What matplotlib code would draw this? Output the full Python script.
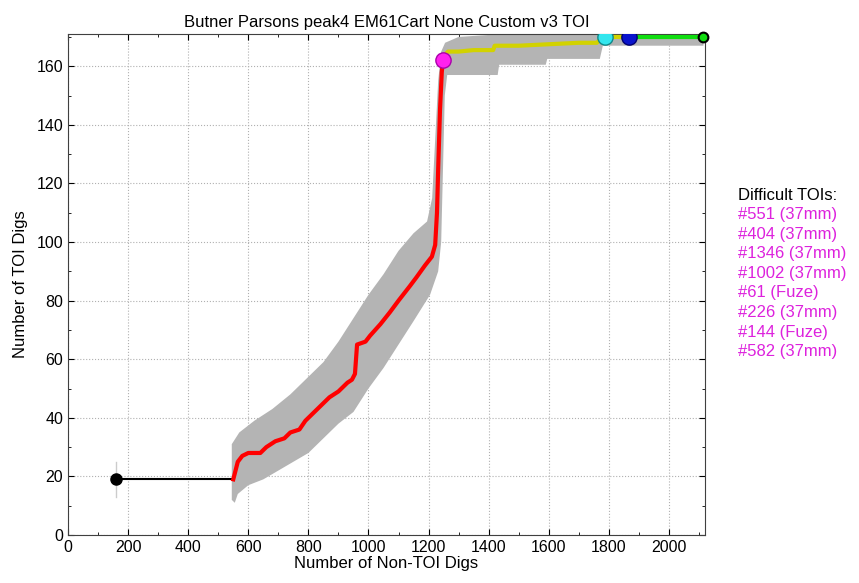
import matplotlib
matplotlib.use('Agg')
import matplotlib.pyplot as plt
from matplotlib.ticker import MultipleLocator

plt.rcParams['font.family'] = ['Liberation Sans', 'DejaVu Sans']

# black lead-in segment
x_start = [160, 550]
y_start = [19, 19]
err_start = [13, 25]

# red part of the curve
x_red = [550, 555, 565, 580, 600, 640, 660, 690, 720, 740, 770, 790, 820, 850, 870,
         900, 930, 945, 955, 962, 990, 1005, 1040, 1071, 1100, 1138, 1160, 1188, 1211,
         1222, 1228, 1232, 1238, 1244, 1248]
y_red = [19, 21, 25, 27, 28, 28, 30, 32, 33, 35, 36, 39, 42, 45, 47,
         49, 52, 53, 55, 65, 66, 68, 72, 76, 80, 85, 88, 92, 95,
         99, 110, 125, 145, 158, 162]

# yellow part
x_yel = [1248, 1255, 1265, 1300, 1350, 1415, 1420, 1500, 1600, 1700, 1760, 1770, 1787, 1867]
y_yel = [162, 164, 165, 165, 165.5, 165.5, 167, 167, 167.5, 168, 168, 169, 170, 170]

# green part
x_grn = [1867, 2115]
y_grn = [170, 170]

# confidence band: upper/left edge then lower/right edge
band_up_x = [545, 545, 570, 620, 680, 740, 800, 850, 900, 950, 1000, 1050, 1100, 1150,
             1195, 1212, 1222, 1232, 1242, 1255, 1300, 1450, 1600, 1800, 2115]
band_up_y = [12, 31, 35, 39, 43, 48, 54, 59, 66, 74, 82, 89, 97, 103,
             107, 115, 135, 155, 165, 168, 170, 171, 171, 171, 171]
band_lo_x = [2115, 1780, 1770, 1595, 1590, 1435, 1430, 1262, 1254, 1248, 1242, 1232,
             1205, 1150, 1100, 1050, 1000, 950, 900, 850, 800, 750, 700, 650, 600, 565, 555]
band_lo_y = [167, 167, 162.5, 162.5, 160.5, 160.5, 157, 157, 150, 125, 100, 90,
             82, 73, 65, 57, 50, 42, 38, 33, 28, 25, 22, 19, 17, 14, 11]

notes = ['#551 (37mm)', '#404 (37mm)', '#1346 (37mm)', '#1002 (37mm)',
         '#61 (Fuze)', '#226 (37mm)', '#144 (Fuze)', '#582 (37mm)']

fig = plt.figure(figsize=(8.59, 5.83), dpi=100)
ax = fig.add_axes([0.0792, 0.0823, 0.7415, 0.8594])

ax.fill(band_up_x + band_lo_x, band_up_y + band_lo_y, color='#b4b4b4', lw=0, zorder=2)

ax.plot([x_start[0], x_start[0]], err_start, color='#cccccc', lw=1, zorder=2)
ax.plot(x_start, y_start, color='black', lw=1.5, zorder=3)
ax.plot(x_red, y_red, color='red', lw=3, zorder=4)
ax.plot(x_yel, y_yel, color='#d2d200', lw=3, zorder=4)
ax.plot(x_grn, y_grn, color='#10dd10', lw=3, zorder=4)

ax.plot(x_start[0], y_start[0], 'o', color='black', ms=8, zorder=5)
ax.plot(x_red[-1], y_red[-1], 'o', mfc='#ff22ee', mec='#aa00aa', ms=11, zorder=5)
ax.plot(x_yel[12], y_yel[12], 'o', mfc='#33e6ee', mec='#108888', ms=11, zorder=5)
ax.plot(x_grn[0], y_grn[0], 'o', mfc='#0a14cc', mec='#000070', ms=11, zorder=5)
ax.plot(x_grn[-1], y_grn[-1], 'o', mfc='#10dd10', mec='black', mew=1.5, ms=7, zorder=5,
        clip_on=False)

ax.set_xlim(0, 2120)
ax.set_ylim(0, 171)
ax.xaxis.set_major_locator(MultipleLocator(200))
ax.xaxis.set_minor_locator(MultipleLocator(100))
ax.yaxis.set_major_locator(MultipleLocator(20))
ax.yaxis.set_minor_locator(MultipleLocator(10))
ax.tick_params(which='both', direction='in', top=True, right=True, labelsize=11.5)
ax.tick_params(which='major', length=4)
ax.tick_params(which='minor', length=2)
ax.grid(True, which='major', ls=':', color='#b0b0b0', lw=0.8)
for s in ax.spines.values():
    s.set_color('#404040')

ax.set_title('Butner Parsons peak4 EM61Cart None Custom v3 TOI', fontsize=12, pad=5)
ax.set_xlabel('Number of Non-TOI Digs', fontsize=12, labelpad=1)
ax.set_ylabel('Number of TOI Digs', fontsize=12, labelpad=6)

fig.text(0.859, 0.665, 'Difficult TOIs:', fontsize=12, color='black', va='center')
for i, t in enumerate(notes):
    fig.text(0.859, 0.632 - i * 0.0336, t, fontsize=12, color='#dd22dd', va='center')

fig.savefig('out.png', dpi=100)
